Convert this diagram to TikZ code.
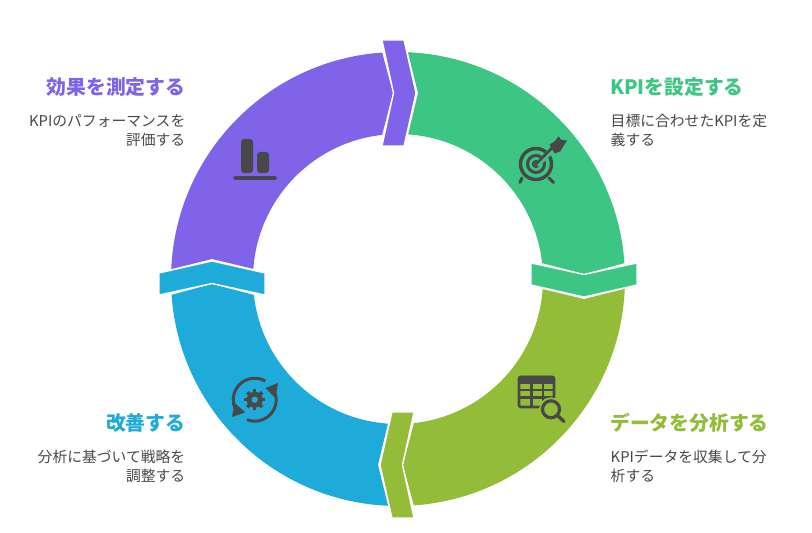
\documentclass[tikz,border=0pt]{standalone}
\usepackage{fontspec}
\setmainfont{Noto Sans CJK JP}
\definecolor{ringgreen}{HTML}{3CC583}
\definecolor{ringolive}{HTML}{93BC38}
\definecolor{ringblue}{HTML}{1EABDA}
\definecolor{ringpurple}{HTML}{7F63E8}
\definecolor{icondark}{HTML}{484848}
\tikzset{
    headtext/.style={inner sep=0pt, font=\fontsize{19.8}{24}\selectfont\bfseries},
    bodytext/.style={inner sep=0pt, text=icondark, font=\fontsize{14.8}{19}\selectfont},
    iconline/.style={draw=icondark, line width=3pt},
    iconfill/.style={fill=icondark, draw=none}
}
\begin{document}
\begin{tikzpicture}[x=1pt, y=1pt]
    \useasboundingbox (0,0) rectangle (812,533);
    % ring
    \foreach \a/\col in {0/ringgreen,-90/ringolive,-180/ringblue,-270/ringpurple} {
        \begin{scope}[shift={(398,254)}, rotate=\a]
            \fill[\col] (87.5:227pt) arc[start angle=87.5, end angle=4, radius=227pt]
                -- (186,5) -- (6.3:145pt) arc[start angle=6.3, end angle=86, radius=145pt]
                -- (20,186) -- cycle;
        \end{scope}
    }
    \foreach \a/\col in {0/ringgreen,-90/ringolive,-180/ringblue,-270/ringpurple} {
        \begin{scope}[shift={(398,254)}, rotate=\a]
            \filldraw[fill=\col, draw=white, line width=1.3pt] (133,16) -- (186,4.5) -- (239,16)
                -- (239,-6) -- (186,-18) -- (133,-6) -- cycle;
        \end{scope}
    }
    % target
    \begin{scope}[shift={(536,369)}]
        \draw[iconline, line width=3.4pt] (0,0) circle (15.5);
        \draw[iconline] (0,0) circle (8.5);
        \draw[iconline, line width=2.4pt] (0,0) circle (2.8);
        \draw[iconline, line cap=round] (-14,-14) -- (-16,-18.5);
        \draw[iconline, line cap=round] (13,-14) -- (17.5,-18.5);
        \draw[ringgreen, line width=5.5pt] (1,-1) -- (15,13);
        \draw[iconline, line width=2.5pt, line cap=round] (0,0) -- (16,16);
        \fill[iconfill] (13.5,19.3) -- (18.7,22.7) -- (22.7,27.7) -- (25,24.3) -- (31,23.3)
            -- (27.7,18.3) -- (24.3,12.7) -- (18.7,10.5) -- cycle;
    \end{scope}
    % table and lens
    \begin{scope}[shift={(518,157)}]
        \draw[iconline, line width=2.6pt, rounded corners=2pt] (1,-1) rectangle (36,-31);
        \fill[iconfill, rounded corners=2pt] (0,0) rectangle (37,-8);
        \draw[iconline, line width=2.2pt] (0,-14) -- (37,-14) (0,-21.5) -- (37,-21.5)
            (13.5,-7) -- (13.5,-31) (25,-7) -- (25,-31);
        \fill[ringolive] (33,-33.3) circle (12);
        \draw[iconline, line width=3.2pt] (33,-33.3) circle (8.5);
        \draw[iconline, line width=3.4pt, line cap=round] (39.5,-39.5) -- (46,-45.5);
    \end{scope}
    % cycle and gear
    \begin{scope}[shift={(254.7,133.3)}]
        \draw[iconline] (60.7:21.5pt) arc[start angle=60.7, end angle=207, radius=21.5pt];
        \draw[iconline] (-111:21.5pt) arc[start angle=-111, end angle=20, radius=21.5pt];
        \fill[iconfill] (-22.7,-17.3) -- (-9.3,-12.7) -- (-20,-3.3) -- cycle;
        \fill[iconfill] (23.3,16.7) -- (10.7,11.7) -- (20.7,1.7) -- cycle;
        \foreach \t in {0,45,...,315} {
            \draw[icondark, line width=3.4pt] (0,0) -- (\t:10.5pt);
        }
        \fill[iconfill] (0,0) circle (8);
        \fill[ringblue] (0,0) circle (3.2);
    \end{scope}
    % bars
    \fill[iconfill, rounded corners=3pt] (241,360) rectangle (253,394);
    \fill[iconfill, rounded corners=3pt] (257,360) rectangle (269,381);
    \draw[iconline, line width=3.5pt, line cap=round] (235,355) -- (275,355);
    % labels
    \node[headtext, text=ringpurple, anchor=east] (measurehead) at (185.5,446) {効果を測定する};
    \node[bodytext, anchor=north east, align=right] (measurebody) at (185.5,419) {KPIのパフォーマンスを\\評価する};
    \node[headtext, text=ringgreen, anchor=west] (kpihead) at (610,446) {KPIを設定する};
    \node[bodytext, anchor=north west, align=left] (kpibody) at (610.5,419) {目標に合わせたKPIを定\\義する};
    \node[headtext, text=ringblue, anchor=east] (improvehead) at (185.5,110) {改善する};
    \node[bodytext, anchor=north east, align=right] (improvebody) at (185.5,83) {分析に基づいて戦略を\\調整する};
    \node[headtext, text=ringolive, anchor=west] (datahead) at (610,110) {データを分析する};
    \node[bodytext, anchor=north west, align=left] (databody) at (610.5,83) {KPIデータを収集して分\\析する};
\end{tikzpicture}
\end{document}
